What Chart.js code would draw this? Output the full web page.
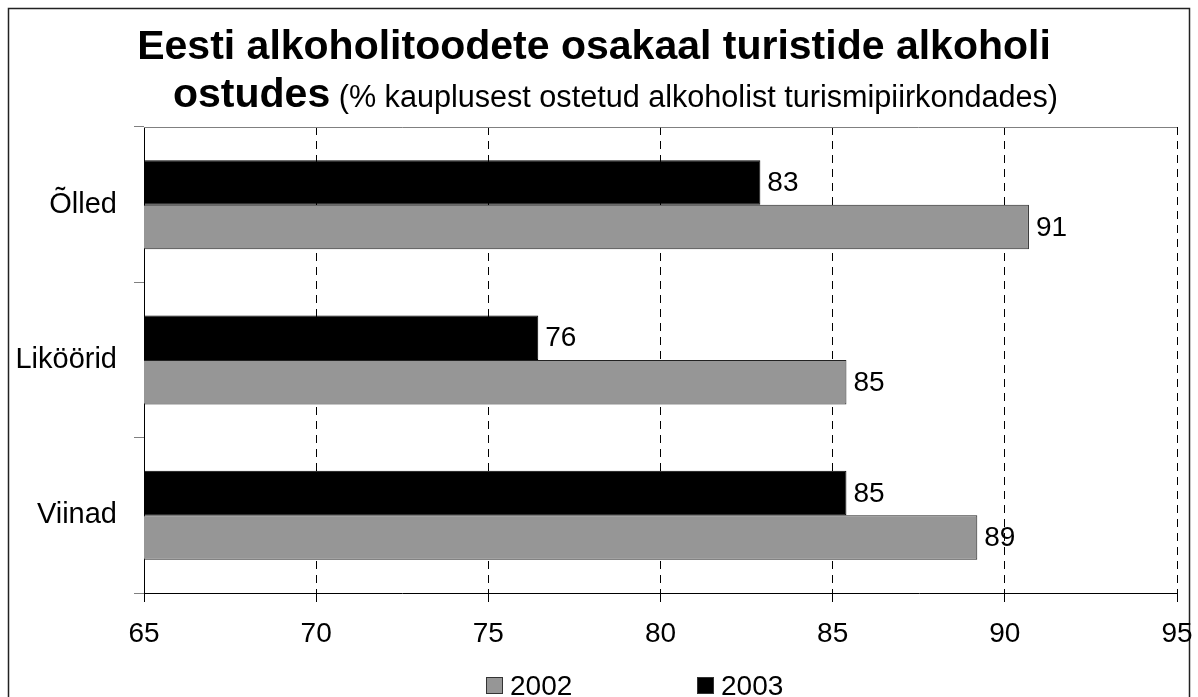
<!DOCTYPE html>
<html>
<head>
<meta charset="utf-8">
<script src="https://cdn.jsdelivr.net/npm/chart.js@4"></script>
<style>
  body { margin: 0; background: #fff; }
  #wrap { width: 1198px; height: 697px; }
</style>
</head>
<body>
<div id="wrap"><canvas id="chart" width="1198" height="697"></canvas></div>
<script>
const categories = ['Õlled', 'Liköörid', 'Viinad']
const values2003 = [82.9, 76.45, 85.4]
const values2002 = [90.7, 85.4, 89.2]
const xMin = 65
const xMax = 95
const xStep = 5
const titleLine1 = 'Eesti alkoholitoodete osakaal turistide alkoholi'
const titleBold2 = 'ostudes'
const titleNormal2 = ' (% kauplusest ostetud alkoholist turismipiirkondades)'

const FONT = '"Liberation Sans", Arial, sans-serif'

const frame = {
  id: 'frame',
  beforeDraw(chart) {
    const ctx = chart.ctx
    ctx.save()
    ctx.fillStyle = '#fff'
    ctx.fillRect(0, 0, chart.width, chart.height)
    ctx.strokeStyle = '#222'
    ctx.lineWidth = 1.5
    ctx.strokeRect(8.5, 8.5, 1181, 720)
    // titles
    ctx.fillStyle = '#000'
    ctx.textBaseline = 'alphabetic'
    ctx.textAlign = 'center'
    ctx.font = 'bold 41px ' + FONT
    ctx.fillText(titleLine1, 594, 59)
    ctx.textAlign = 'left'
    ctx.fillText(titleBold2, 173, 107)
    const w = ctx.measureText(titleBold2).width
    ctx.font = '30.6px ' + FONT
    ctx.fillText(titleNormal2, 173 + w, 107)
    ctx.restore()
  },
  beforeDatasetsDraw(chart) {
    // gray top edge of plot area
    const { ctx, chartArea } = chart
    ctx.save()
    ctx.strokeStyle = '#808080'
    ctx.lineWidth = 1
    ctx.beginPath()
    ctx.moveTo(chartArea.left, chartArea.top + 0.5)
    ctx.lineTo(chartArea.right, chartArea.top + 0.5)
    ctx.stroke()
    ctx.restore()
  },
  afterDatasetsDraw(chart) {
    const ctx = chart.ctx
    ctx.save()
    ctx.fillStyle = '#000'
    ctx.font = '28px ' + FONT
    ctx.textAlign = 'left'
    ctx.textBaseline = 'middle'
    chart.data.datasets.forEach((ds, i) => {
      chart.getDatasetMeta(i).data.forEach((bar, j) => {
        ctx.fillText(String(Math.round(ds.data[j])), bar.x + 7, bar.y + 1)
      })
    })
    // legend, 2002 first
    const order = [1, 0]
    const xs = [486, 697]
    order.forEach((di, k) => {
      const ds = chart.data.datasets[di]
      ctx.fillStyle = ds.backgroundColor
      ctx.fillRect(xs[k] + 0.5, 677.5, 16, 16)
      ctx.strokeStyle = '#333'
      ctx.lineWidth = 1
      ctx.strokeRect(xs[k] + 0.5, 677.5, 16, 16)
      ctx.fillStyle = '#000'
      ctx.textBaseline = 'alphabetic'
      ctx.fillText(ds.label, xs[k] + 24, 695)
    })
    ctx.restore()
  }
}

new Chart(document.getElementById('chart'), {
  type: 'bar',
  data: {
    labels: categories,
    datasets: [
      {
        label: '2003',
        data: values2003,
        backgroundColor: '#000000',
        borderColor: '#000000',
        borderWidth: 1
      },
      {
        label: '2002',
        data: values2002,
        backgroundColor: '#969696',
        borderColor: '#222222',
        borderWidth: 1
      }
    ]
  },
  options: {
    indexAxis: 'y',
    responsive: false,
    animation: false,
    categoryPercentage: 0.573,
    barPercentage: 1,
    layout: { padding: { top: 127, right: 21, left: 0, bottom: 0 } },
    plugins: {
      legend: { display: false },
      title: { display: false },
      tooltip: { enabled: false }
    },
    scales: {
      x: {
        type: 'linear',
        min: xMin,
        max: xMax,
        ticks: {
          stepSize: xStep,
          color: '#000',
          padding: 15,
          font: { family: FONT, size: 28 }
        },
        grid: {
          color: '#000',
          lineWidth: 1,
          tickLength: 9,
          tickColor: '#000',
          tickBorderDash: []
        },
        border: { display: true, color: '#000', width: 1, dash: [8, 6] },
        afterFit(scale) {
          scale.height = 104
          scale.paddingLeft = 0
          scale.paddingRight = 0
        }
      },
      y: {
        ticks: {
          color: '#000',
          padding: 17,
          font: { family: FONT, size: 29 }
        },
        grid: {
          offset: true,
          drawOnChartArea: false,
          tickLength: 10,
          tickColor: '#808080',
          color: '#808080'
        },
        border: { display: true, color: '#000', width: 1 },
        afterFit(scale) {
          scale.width = 144
          scale.paddingTop = 0
          scale.paddingBottom = 0
        }
      }
    }
  },
  plugins: [frame]
})
</script>
</body>
</html>
